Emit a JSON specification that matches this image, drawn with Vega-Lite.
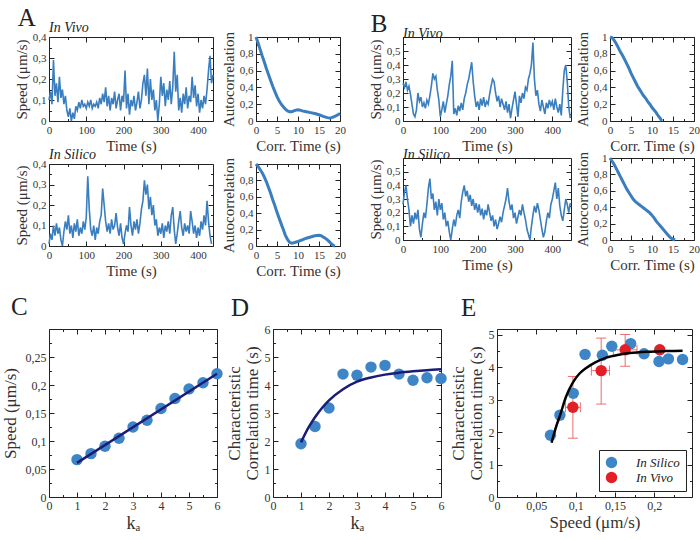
{
"$schema": "https://vega.github.io/schema/vega-lite/v6.json",
"padding": {"left": 0, "top": 6, "right": 4, "bottom": 4},
"background": "white",
"config": {
  "font": "Liberation Serif",
  "view": {"stroke": "#222", "strokeWidth": 1},
  "axis": {"grid": false, "domain": false, "tickColor": "#222", "tickSize": -5, "tickWidth": 1, "labelPadding": 8, "labelFont": "Liberation Serif", "labelFontSize": 11, "labelFontWeight": "normal", "labelColor": "#333", "labelFlush": false, "labelOverlap": false, "titleFont": "Liberation Serif", "titleFontSize": 15, "titleFontWeight": "normal", "titleColor": "#333", "titlePadding": 3},
  "style": {"guide-label": {"font": "Liberation Serif", "fontWeight": "normal"}, "guide-title": {"font": "Liberation Serif", "fontWeight": "normal"}},
  "title": {"font": "Liberation Serif", "fontWeight": "normal", "color": "#222"}
},
"datasets": {
"aViv": [{"t":0,"v":0.10},{"t":4,"v":0.14},{"t":8,"v":0.08},{"t":12,"v":0.29},{"t":16,"v":0.12},{"t":20,"v":0.18},{"t":24,"v":0.09},{"t":28,"v":0.21},{"t":32,"v":0.11},{"t":36,"v":0.15},{"t":40,"v":0.08},{"t":44,"v":0.12},{"t":48,"v":0.05},{"t":52,"v":0.02},{"t":56,"v":0.06},{"t":60,"v":0.00},{"t":64,"v":0.04},{"t":68,"v":0.01},{"t":72,"v":0.07},{"t":76,"v":0.05},{"t":80,"v":0.09},{"t":84,"v":0.06},{"t":88,"v":0.10},{"t":92,"v":0.07},{"t":96,"v":0.08},{"t":100,"v":0.06},{"t":104,"v":0.09},{"t":108,"v":0.07},{"t":112,"v":0.10},{"t":116,"v":0.06},{"t":120,"v":0.08},{"t":124,"v":0.07},{"t":128,"v":0.09},{"t":132,"v":0.06},{"t":136,"v":0.11},{"t":140,"v":0.08},{"t":144,"v":0.13},{"t":148,"v":0.09},{"t":152,"v":0.16},{"t":156,"v":0.07},{"t":160,"v":0.12},{"t":164,"v":0.05},{"t":168,"v":0.11},{"t":172,"v":0.08},{"t":176,"v":0.14},{"t":180,"v":0.06},{"t":184,"v":0.10},{"t":188,"v":0.13},{"t":192,"v":0.05},{"t":196,"v":0.12},{"t":200,"v":0.09},{"t":204,"v":0.24},{"t":208,"v":0.06},{"t":212,"v":0.13},{"t":216,"v":0.03},{"t":220,"v":0.10},{"t":224,"v":0.07},{"t":228,"v":0.12},{"t":232,"v":0.05},{"t":236,"v":0.09},{"t":240,"v":0.14},{"t":244,"v":0.06},{"t":248,"v":0.10},{"t":252,"v":0.18},{"t":256,"v":0.22},{"t":260,"v":0.12},{"t":264,"v":0.25},{"t":268,"v":0.08},{"t":272,"v":0.20},{"t":276,"v":0.10},{"t":280,"v":0.15},{"t":284,"v":0.05},{"t":288,"v":0.10},{"t":292,"v":0.00},{"t":296,"v":0.08},{"t":300,"v":0.21},{"t":304,"v":0.12},{"t":308,"v":0.18},{"t":312,"v":0.07},{"t":316,"v":0.15},{"t":320,"v":0.10},{"t":324,"v":0.19},{"t":328,"v":0.08},{"t":332,"v":0.16},{"t":336,"v":0.33},{"t":340,"v":0.14},{"t":344,"v":0.22},{"t":348,"v":0.05},{"t":352,"v":0.11},{"t":356,"v":0.04},{"t":360,"v":0.13},{"t":364,"v":0.08},{"t":368,"v":0.16},{"t":372,"v":0.06},{"t":376,"v":0.12},{"t":380,"v":0.09},{"t":384,"v":0.21},{"t":388,"v":0.11},{"t":392,"v":0.17},{"t":396,"v":0.07},{"t":400,"v":0.13},{"t":404,"v":0.04},{"t":408,"v":0.10},{"t":412,"v":0.06},{"t":416,"v":0.12},{"t":420,"v":0.08},{"t":424,"v":0.15},{"t":428,"v":0.24},{"t":432,"v":0.31},{"t":436,"v":0.18},{"t":440,"v":0.22}],
"aSil": [{"t":0,"v":0.01},{"t":4,"v":0.06},{"t":8,"v":0.03},{"t":12,"v":0.10},{"t":16,"v":0.05},{"t":20,"v":0.11},{"t":24,"v":0.06},{"t":28,"v":0.09},{"t":32,"v":0.03},{"t":36,"v":0.00},{"t":40,"v":0.07},{"t":44,"v":0.12},{"t":48,"v":0.08},{"t":52,"v":0.15},{"t":56,"v":0.06},{"t":60,"v":0.10},{"t":64,"v":0.04},{"t":68,"v":0.11},{"t":72,"v":0.07},{"t":76,"v":0.13},{"t":80,"v":0.05},{"t":84,"v":0.09},{"t":88,"v":0.06},{"t":92,"v":0.12},{"t":96,"v":0.08},{"t":100,"v":0.14},{"t":104,"v":0.34},{"t":108,"v":0.18},{"t":112,"v":0.08},{"t":116,"v":0.05},{"t":120,"v":0.10},{"t":124,"v":0.03},{"t":128,"v":0.09},{"t":132,"v":0.06},{"t":136,"v":0.12},{"t":140,"v":0.15},{"t":144,"v":0.28},{"t":148,"v":0.20},{"t":152,"v":0.12},{"t":156,"v":0.07},{"t":160,"v":0.11},{"t":164,"v":0.06},{"t":168,"v":0.13},{"t":172,"v":0.08},{"t":176,"v":0.10},{"t":180,"v":0.16},{"t":184,"v":0.09},{"t":188,"v":0.05},{"t":192,"v":0.11},{"t":196,"v":0.04},{"t":200,"v":0.01},{"t":204,"v":0.06},{"t":208,"v":0.10},{"t":212,"v":0.07},{"t":216,"v":0.19},{"t":220,"v":0.10},{"t":224,"v":0.05},{"t":228,"v":0.12},{"t":232,"v":0.08},{"t":236,"v":0.13},{"t":240,"v":0.06},{"t":244,"v":0.11},{"t":248,"v":0.18},{"t":252,"v":0.22},{"t":256,"v":0.32},{"t":260,"v":0.25},{"t":264,"v":0.30},{"t":268,"v":0.18},{"t":272,"v":0.24},{"t":276,"v":0.15},{"t":280,"v":0.20},{"t":284,"v":0.10},{"t":288,"v":0.13},{"t":292,"v":0.05},{"t":296,"v":0.09},{"t":300,"v":0.06},{"t":304,"v":0.11},{"t":308,"v":0.04},{"t":312,"v":0.10},{"t":316,"v":0.07},{"t":320,"v":0.12},{"t":324,"v":0.06},{"t":328,"v":0.15},{"t":332,"v":0.19},{"t":336,"v":0.08},{"t":340,"v":0.01},{"t":344,"v":0.06},{"t":348,"v":0.12},{"t":352,"v":0.17},{"t":356,"v":0.09},{"t":360,"v":0.05},{"t":364,"v":0.11},{"t":368,"v":0.07},{"t":372,"v":0.10},{"t":376,"v":0.06},{"t":380,"v":0.17},{"t":384,"v":0.12},{"t":388,"v":0.06},{"t":392,"v":0.10},{"t":396,"v":0.04},{"t":400,"v":0.09},{"t":404,"v":0.05},{"t":408,"v":0.12},{"t":412,"v":0.08},{"t":416,"v":0.15},{"t":420,"v":0.10},{"t":424,"v":0.22},{"t":428,"v":0.12},{"t":432,"v":0.05},{"t":436,"v":0.01}],
"bViv": [{"t":0,"v":0.27},{"t":4,"v":0.24},{"t":8,"v":0.28},{"t":12,"v":0.22},{"t":16,"v":0.25},{"t":20,"v":0.19},{"t":24,"v":0.12},{"t":28,"v":0.05},{"t":32,"v":0.03},{"t":36,"v":0.08},{"t":40,"v":0.20},{"t":44,"v":0.14},{"t":48,"v":0.17},{"t":52,"v":0.10},{"t":56,"v":0.13},{"t":60,"v":0.09},{"t":64,"v":0.15},{"t":68,"v":0.12},{"t":72,"v":0.18},{"t":76,"v":0.25},{"t":80,"v":0.34},{"t":84,"v":0.30},{"t":88,"v":0.32},{"t":92,"v":0.22},{"t":96,"v":0.15},{"t":100,"v":0.03},{"t":104,"v":0.08},{"t":108,"v":0.14},{"t":112,"v":0.06},{"t":116,"v":0.12},{"t":120,"v":0.18},{"t":124,"v":0.26},{"t":128,"v":0.32},{"t":132,"v":0.43},{"t":136,"v":0.05},{"t":140,"v":0.09},{"t":144,"v":0.04},{"t":148,"v":0.11},{"t":152,"v":0.07},{"t":156,"v":0.13},{"t":160,"v":0.08},{"t":164,"v":0.16},{"t":168,"v":0.20},{"t":172,"v":0.26},{"t":176,"v":0.30},{"t":180,"v":0.36},{"t":184,"v":0.42},{"t":188,"v":0.28},{"t":192,"v":0.18},{"t":196,"v":0.10},{"t":200,"v":0.14},{"t":204,"v":0.08},{"t":208,"v":0.16},{"t":212,"v":0.11},{"t":216,"v":0.17},{"t":220,"v":0.10},{"t":224,"v":0.14},{"t":228,"v":0.12},{"t":232,"v":0.19},{"t":236,"v":0.25},{"t":240,"v":0.30},{"t":244,"v":0.28},{"t":248,"v":0.20},{"t":252,"v":0.14},{"t":256,"v":0.18},{"t":260,"v":0.10},{"t":264,"v":0.16},{"t":268,"v":0.12},{"t":272,"v":0.08},{"t":276,"v":0.14},{"t":280,"v":0.06},{"t":284,"v":0.12},{"t":288,"v":0.02},{"t":292,"v":0.09},{"t":296,"v":0.15},{"t":300,"v":0.21},{"t":304,"v":0.12},{"t":308,"v":0.03},{"t":312,"v":0.18},{"t":316,"v":0.13},{"t":320,"v":0.20},{"t":324,"v":0.16},{"t":328,"v":0.24},{"t":332,"v":0.22},{"t":336,"v":0.30},{"t":340,"v":0.34},{"t":344,"v":0.40},{"t":348,"v":0.56},{"t":352,"v":0.30},{"t":356,"v":0.18},{"t":360,"v":0.22},{"t":364,"v":0.12},{"t":368,"v":0.07},{"t":372,"v":0.15},{"t":376,"v":0.10},{"t":380,"v":0.05},{"t":384,"v":0.13},{"t":388,"v":0.09},{"t":392,"v":0.15},{"t":396,"v":0.11},{"t":400,"v":0.14},{"t":404,"v":0.08},{"t":408,"v":0.16},{"t":412,"v":0.10},{"t":416,"v":0.06},{"t":420,"v":0.12},{"t":424,"v":0.04},{"t":428,"v":0.22},{"t":432,"v":0.36},{"t":436,"v":0.40},{"t":440,"v":0.28},{"t":444,"v":0.10},{"t":448,"v":0.02}],
"bSil": [{"t":0,"v":0.26},{"t":4,"v":0.35},{"t":8,"v":0.40},{"t":12,"v":0.30},{"t":16,"v":0.22},{"t":20,"v":0.10},{"t":24,"v":0.18},{"t":28,"v":0.12},{"t":32,"v":0.20},{"t":36,"v":0.15},{"t":40,"v":0.22},{"t":44,"v":0.08},{"t":48,"v":0.02},{"t":52,"v":0.12},{"t":56,"v":0.20},{"t":60,"v":0.16},{"t":64,"v":0.26},{"t":68,"v":0.38},{"t":72,"v":0.45},{"t":76,"v":0.30},{"t":80,"v":0.34},{"t":84,"v":0.22},{"t":88,"v":0.28},{"t":92,"v":0.18},{"t":96,"v":0.30},{"t":100,"v":0.22},{"t":104,"v":0.27},{"t":108,"v":0.15},{"t":112,"v":0.20},{"t":116,"v":0.10},{"t":120,"v":0.14},{"t":124,"v":0.06},{"t":128,"v":0.00},{"t":132,"v":0.08},{"t":136,"v":0.15},{"t":140,"v":0.10},{"t":144,"v":0.18},{"t":148,"v":0.22},{"t":152,"v":0.16},{"t":156,"v":0.28},{"t":160,"v":0.35},{"t":164,"v":0.40},{"t":168,"v":0.32},{"t":172,"v":0.36},{"t":176,"v":0.28},{"t":180,"v":0.33},{"t":184,"v":0.25},{"t":188,"v":0.30},{"t":192,"v":0.22},{"t":196,"v":0.27},{"t":200,"v":0.20},{"t":204,"v":0.26},{"t":208,"v":0.18},{"t":212,"v":0.23},{"t":216,"v":0.15},{"t":220,"v":0.22},{"t":224,"v":0.18},{"t":228,"v":0.26},{"t":232,"v":0.20},{"t":236,"v":0.14},{"t":240,"v":0.18},{"t":244,"v":0.10},{"t":248,"v":0.15},{"t":252,"v":0.08},{"t":256,"v":0.12},{"t":260,"v":0.17},{"t":264,"v":0.13},{"t":268,"v":0.20},{"t":272,"v":0.25},{"t":276,"v":0.30},{"t":280,"v":0.38},{"t":284,"v":0.28},{"t":288,"v":0.22},{"t":292,"v":0.26},{"t":296,"v":0.16},{"t":300,"v":0.20},{"t":304,"v":0.12},{"t":308,"v":0.17},{"t":312,"v":0.22},{"t":316,"v":0.18},{"t":320,"v":0.26},{"t":324,"v":0.20},{"t":328,"v":0.15},{"t":332,"v":0.08},{"t":336,"v":0.04},{"t":340,"v":0.00},{"t":344,"v":0.10},{"t":348,"v":0.18},{"t":352,"v":0.25},{"t":356,"v":0.20},{"t":360,"v":0.27},{"t":364,"v":0.22},{"t":368,"v":0.15},{"t":372,"v":0.08},{"t":376,"v":0.02},{"t":380,"v":0.06},{"t":384,"v":0.14},{"t":388,"v":0.20},{"t":392,"v":0.16},{"t":396,"v":0.26},{"t":400,"v":0.30},{"t":404,"v":0.36},{"t":408,"v":0.42},{"t":412,"v":0.30},{"t":416,"v":0.38},{"t":420,"v":0.25},{"t":424,"v":0.18},{"t":428,"v":0.14},{"t":432,"v":0.22},{"t":436,"v":0.30},{"t":440,"v":0.26},{"t":444,"v":0.20},{"t":448,"v":0.27}],
"acAViv": [{"c":0,"r":1.0},{"c":0.5,"r":0.93},{"c":1,"r":0.85},{"c":1.5,"r":0.77},{"c":2,"r":0.70},{"c":2.5,"r":0.62},{"c":3,"r":0.55},{"c":3.5,"r":0.48},{"c":4,"r":0.41},{"c":4.5,"r":0.35},{"c":5,"r":0.29},{"c":5.5,"r":0.24},{"c":6,"r":0.20},{"c":6.5,"r":0.17},{"c":7,"r":0.14},{"c":7.5,"r":0.12},{"c":8,"r":0.11},{"c":8.5,"r":0.11},{"c":9,"r":0.12},{"c":9.5,"r":0.13},{"c":10,"r":0.135},{"c":10.5,"r":0.13},{"c":11,"r":0.12},{"c":12,"r":0.11},{"c":13,"r":0.10},{"c":14,"r":0.09},{"c":15,"r":0.075},{"c":16,"r":0.055},{"c":17,"r":0.04},{"c":17.5,"r":0.035},{"c":18,"r":0.04},{"c":18.5,"r":0.05},{"c":19,"r":0.06},{"c":19.5,"r":0.075},{"c":20,"r":0.09}],
"acASil": [{"c":0,"r":1.0},{"c":0.5,"r":0.97},{"c":1,"r":0.93},{"c":1.5,"r":0.89},{"c":2,"r":0.84},{"c":2.5,"r":0.78},{"c":3,"r":0.71},{"c":3.5,"r":0.64},{"c":4,"r":0.56},{"c":4.5,"r":0.49},{"c":5,"r":0.41},{"c":5.5,"r":0.34},{"c":6,"r":0.27},{"c":6.5,"r":0.20},{"c":7,"r":0.13},{"c":7.5,"r":0.08},{"c":8,"r":0.045},{"c":8.5,"r":0.035},{"c":9,"r":0.04},{"c":10,"r":0.055},{"c":11,"r":0.075},{"c":12,"r":0.095},{"c":13,"r":0.11},{"c":14,"r":0.125},{"c":15,"r":0.13},{"c":15.5,"r":0.125},{"c":16,"r":0.11},{"c":16.5,"r":0.095},{"c":17,"r":0.075},{"c":17.5,"r":0.05},{"c":18,"r":0.025},{"c":18.5,"r":0.005},{"c":18.8,"r":0.0}],
"acBViv": [{"c":0,"r":1.0},{"c":0.5,"r":0.99},{"c":1,"r":0.96},{"c":1.5,"r":0.92},{"c":2,"r":0.87},{"c":2.5,"r":0.82},{"c":3,"r":0.78},{"c":3.5,"r":0.73},{"c":4,"r":0.68},{"c":4.5,"r":0.63},{"c":5,"r":0.57},{"c":5.5,"r":0.52},{"c":6,"r":0.47},{"c":6.5,"r":0.42},{"c":7,"r":0.38},{"c":7.5,"r":0.34},{"c":8,"r":0.30},{"c":8.5,"r":0.27},{"c":9,"r":0.23},{"c":9.5,"r":0.20},{"c":10,"r":0.16},{"c":10.5,"r":0.13},{"c":11,"r":0.10},{"c":11.5,"r":0.06},{"c":12,"r":0.03},{"c":12.3,"r":0.0}],
"acBSil": [{"c":0,"r":1.0},{"c":0.5,"r":0.96},{"c":1,"r":0.92},{"c":1.5,"r":0.87},{"c":2,"r":0.82},{"c":2.5,"r":0.77},{"c":3,"r":0.72},{"c":3.5,"r":0.67},{"c":4,"r":0.62},{"c":4.5,"r":0.58},{"c":5,"r":0.54},{"c":5.5,"r":0.50},{"c":6,"r":0.47},{"c":6.5,"r":0.45},{"c":7,"r":0.43},{"c":7.5,"r":0.41},{"c":8,"r":0.39},{"c":8.5,"r":0.37},{"c":9,"r":0.35},{"c":9.5,"r":0.33},{"c":10,"r":0.30},{"c":10.5,"r":0.27},{"c":11,"r":0.23},{"c":11.5,"r":0.20},{"c":12,"r":0.17},{"c":12.5,"r":0.14},{"c":13,"r":0.11},{"c":13.5,"r":0.08},{"c":14,"r":0.05},{"c":14.5,"r":0.025},{"c":15,"r":0.01},{"c":15.5,"r":0.0}],
"cPts": [{"k":1,"s":0.0667},{"k":1.5,"s":0.0774},{"k":2,"s":0.0905},{"k":2.5,"s":0.105},{"k":3,"s":0.125},{"k":3.5,"s":0.137},{"k":4,"s":0.158},{"k":4.5,"s":0.176},{"k":5,"s":0.193},{"k":5.5,"s":0.204},{"k":6,"s":0.220}],
"cFit": [{"k":1,"s":0.061},{"k":6,"s":0.220}],
"dPts": [{"k":1,"ct":1.90},{"k":1.5,"ct":2.52},{"k":2,"ct":3.18},{"k":2.5,"ct":4.39},{"k":3,"ct":4.35},{"k":3.5,"ct":4.64},{"k":4,"ct":4.70},{"k":4.5,"ct":4.39},{"k":5,"ct":4.17},{"k":5.5,"ct":4.26},{"k":6,"ct":4.23}],
"dFit": [{"k":1,"ct":1.95},{"k":1.25,"ct":2.45},{"k":1.5,"ct":2.85},{"k":1.75,"ct":3.18},{"k":2,"ct":3.45},{"k":2.5,"ct":3.85},{"k":3,"ct":4.12},{"k":3.5,"ct":4.27},{"k":4,"ct":4.37},{"k":4.5,"ct":4.44},{"k":5,"ct":4.49},{"k":5.5,"ct":4.53},{"k":6,"ct":4.56}],
"ePts": [{"sp":0.068,"ct":1.90,"type":"In Silico"},{"sp":0.080,"ct":2.52,"type":"In Silico"},{"sp":0.097,"ct":3.19,"type":"In Silico"},{"sp":0.112,"ct":4.39,"type":"In Silico"},{"sp":0.134,"ct":4.36,"type":"In Silico"},{"sp":0.146,"ct":4.64,"type":"In Silico"},{"sp":0.170,"ct":4.72,"type":"In Silico"},{"sp":0.187,"ct":4.41,"type":"In Silico"},{"sp":0.206,"ct":4.17,"type":"In Silico"},{"sp":0.218,"ct":4.25,"type":"In Silico"},{"sp":0.236,"ct":4.23,"type":"In Silico"},{"sp":0.0965,"ct":2.76,"type":"In Vivo"},{"sp":0.1325,"ct":3.89,"type":"In Vivo"},{"sp":0.163,"ct":4.53,"type":"In Vivo"},{"sp":0.207,"ct":4.53,"type":"In Vivo"}],
"eErr": [{"sp":0.0965,"ct":2.76,"ctLo":1.81,"ctHi":3.71,"spLo":0.087,"spHi":0.106},{"sp":0.1325,"ct":3.89,"ctLo":2.86,"ctHi":4.89,"spLo":0.120,"spHi":0.143},{"sp":0.163,"ct":4.53,"ctLo":4.02,"ctHi":5.0,"spLo":0.148,"spHi":0.178}],
"eFit": [{"sp":0.0694,"ct":1.67},{"sp":0.075,"ct":2.15},{"sp":0.080,"ct":2.5},{"sp":0.088,"ct":3.1},{"sp":0.0966,"ct":3.53},{"sp":0.105,"ct":3.8},{"sp":0.113,"ct":3.96},{"sp":0.125,"ct":4.14},{"sp":0.139,"ct":4.29},{"sp":0.155,"ct":4.38},{"sp":0.169,"ct":4.43},{"sp":0.19,"ct":4.47},{"sp":0.215,"ct":4.49},{"sp":0.236,"ct":4.5}]
},
"resolve": {"scale": {"color": "independent"}, "legend": {"color": "independent"}},
"vconcat": [
 {"hconcat": [
  {"title": {"text": "A", "anchor": "start", "frame": "bounds", "fontSize": 25, "offset": -10.5, "dx": 4},
   "spacing": -7,
   "vconcat": [
    {"hconcat": [
      {"width": 164, "height": 84,
       "title": {"text": "In Vivo", "anchor": "start", "frame": "group", "fontStyle": "italic", "fontSize": 14, "offset": -4},
       "layer": [
        {"data": {"name": "aViv"}, "mark": {"type": "line", "color": "#3a7ebf", "strokeWidth": 1.6},
         "encoding": {"x": {"field": "t", "type": "quantitative", "scale": {"domain": [0, 440], "nice": false, "zero": false}, "axis": {"values": [0,100,200,300,400], "title": "Time (s)", "titleFontWeight": "normal", "labelFont": "Liberation Serif", "titleFont": "Liberation Serif"}},
                      "y": {"field": "v", "type": "quantitative", "scale": {"domain": [0, 0.4], "nice": false, "zero": false}, "axis": {"values": [0,0.1,0.2,0.3,0.4], "title": "Speed (μm/s)", "format": ".2~f", "labelExpr": "replace(datum.label,'.',',')", "titleFontWeight": "normal", "labelFont": "Liberation Serif", "titleFont": "Liberation Serif"}}}},
        {"data": {"values": [{"t":0,"v":0}]}, "mark": {"type": "point", "opacity": 0},
         "encoding": {"x": {"field": "t", "type": "quantitative", "scale": {"domain": [0, 440], "nice": false, "zero": false}, "axis": {"orient": "top", "values": [0,100,200,300,400], "labels": false, "title": null}},
                      "y": {"field": "v", "type": "quantitative", "scale": {"domain": [0, 0.4], "nice": false, "zero": false}, "axis": {"orient": "right", "values": [0,0.1,0.2,0.3,0.4], "labels": false, "title": null}}}},
        {"data": {"values": [{"t":0,"v":0}]}, "mark": {"type": "point", "opacity": 0},
         "encoding": {"x": {"field": "t", "type": "quantitative", "scale": {"domain": [0, 440], "nice": false, "zero": false}, "axis": {"orient": "bottom", "values": [50,150,250,350], "labels": false, "title": null, "tickSize": -2.5}},
                      "y": {"field": "v", "type": "quantitative", "scale": {"domain": [0, 0.4], "nice": false, "zero": false}, "axis": {"orient": "left", "values": [0.05,0.15,0.25,0.35], "labels": false, "title": null, "tickSize": -2.5}}}},
        {"data": {"values": [{"t":0,"v":0}]}, "mark": {"type": "point", "opacity": 0},
         "encoding": {"x": {"field": "t", "type": "quantitative", "scale": {"domain": [0, 440], "nice": false, "zero": false}, "axis": {"orient": "top", "values": [50,150,250,350], "labels": false, "title": null, "tickSize": -2.5}},
                      "y": {"field": "v", "type": "quantitative", "scale": {"domain": [0, 0.4], "nice": false, "zero": false}, "axis": {"orient": "right", "values": [0.05,0.15,0.25,0.35], "labels": false, "title": null, "tickSize": -2.5}}}}
       ],
       "resolve": {"axis": {"x": "independent", "y": "independent"}}},
      {"width": 84, "height": 84,
       "layer": [
        {"data": {"name": "acAViv"}, "mark": {"type": "line", "color": "#3a7ebf", "strokeWidth": 3},
         "encoding": {"x": {"field": "c", "type": "quantitative", "scale": {"domain": [0, 20], "nice": false, "zero": false}, "axis": {"values": [0,5,10,15,20], "title": "Corr. Time (s)", "titleFontWeight": "normal", "labelFont": "Liberation Serif", "titleFont": "Liberation Serif"}},
                      "y": {"field": "r", "type": "quantitative", "scale": {"domain": [0, 1], "nice": false, "zero": false}, "axis": {"values": [0,0.2,0.4,0.6,0.8,1], "title": "Autocorrelation", "format": ".2~f", "labelExpr": "replace(datum.label,'.',',')", "titleFontWeight": "normal", "labelFont": "Liberation Serif", "titleFont": "Liberation Serif"}}}},
        {"data": {"values": [{"c":0,"r":0}]}, "mark": {"type": "point", "opacity": 0},
         "encoding": {"x": {"field": "c", "type": "quantitative", "scale": {"domain": [0, 20], "nice": false, "zero": false}, "axis": {"orient": "top", "values": [0,5,10,15,20], "labels": false, "title": null}},
                      "y": {"field": "r", "type": "quantitative", "scale": {"domain": [0, 1], "nice": false, "zero": false}, "axis": {"orient": "right", "values": [0,0.2,0.4,0.6,0.8,1], "labels": false, "title": null}}}},
        {"data": {"values": [{"c":0,"r":0}]}, "mark": {"type": "point", "opacity": 0},
         "encoding": {"x": {"field": "c", "type": "quantitative", "scale": {"domain": [0, 20], "nice": false, "zero": false}, "axis": {"orient": "bottom", "values": [2.5,7.5,12.5,17.5], "labels": false, "title": null, "tickSize": -2.5}},
                      "y": {"field": "r", "type": "quantitative", "scale": {"domain": [0, 1], "nice": false, "zero": false}, "axis": {"orient": "left", "values": [0.1,0.3,0.5,0.7,0.9], "labels": false, "title": null, "tickSize": -2.5}}}},
        {"data": {"values": [{"c":0,"r":0}]}, "mark": {"type": "point", "opacity": 0},
         "encoding": {"x": {"field": "c", "type": "quantitative", "scale": {"domain": [0, 20], "nice": false, "zero": false}, "axis": {"orient": "top", "values": [2.5,7.5,12.5,17.5], "labels": false, "title": null, "tickSize": -2.5}},
                      "y": {"field": "r", "type": "quantitative", "scale": {"domain": [0, 1], "nice": false, "zero": false}, "axis": {"orient": "right", "values": [0.1,0.3,0.5,0.7,0.9], "labels": false, "title": null, "tickSize": -2.5}}}}
       ],
       "resolve": {"axis": {"x": "independent", "y": "independent"}}}
     ], "spacing": 43, "bounds": "flush"},
    {"hconcat": [
      {"width": 164, "height": 82,
       "title": {"text": "In Silico", "anchor": "start", "frame": "group", "fontStyle": "italic", "fontSize": 14, "offset": -4},
       "layer": [
        {"data": {"name": "aSil"}, "mark": {"type": "line", "color": "#3a7ebf", "strokeWidth": 1.6},
         "encoding": {"x": {"field": "t", "type": "quantitative", "scale": {"domain": [0, 440], "nice": false, "zero": false}, "axis": {"values": [0,100,200,300,400], "title": "Time (s)", "titleFontWeight": "normal", "labelFont": "Liberation Serif", "titleFont": "Liberation Serif"}},
                      "y": {"field": "v", "type": "quantitative", "scale": {"domain": [0, 0.4], "nice": false, "zero": false}, "axis": {"values": [0,0.1,0.2,0.3,0.4], "title": "Speed (μm/s)", "format": ".2~f", "labelExpr": "replace(datum.label,'.',',')", "titleFontWeight": "normal", "labelFont": "Liberation Serif", "titleFont": "Liberation Serif"}}}},
        {"data": {"values": [{"t":0,"v":0}]}, "mark": {"type": "point", "opacity": 0},
         "encoding": {"x": {"field": "t", "type": "quantitative", "scale": {"domain": [0, 440], "nice": false, "zero": false}, "axis": {"orient": "top", "values": [0,100,200,300,400], "labels": false, "title": null}},
                      "y": {"field": "v", "type": "quantitative", "scale": {"domain": [0, 0.4], "nice": false, "zero": false}, "axis": {"orient": "right", "values": [0,0.1,0.2,0.3,0.4], "labels": false, "title": null}}}},
        {"data": {"values": [{"t":0,"v":0}]}, "mark": {"type": "point", "opacity": 0},
         "encoding": {"x": {"field": "t", "type": "quantitative", "scale": {"domain": [0, 440], "nice": false, "zero": false}, "axis": {"orient": "bottom", "values": [50,150,250,350], "labels": false, "title": null, "tickSize": -2.5}},
                      "y": {"field": "v", "type": "quantitative", "scale": {"domain": [0, 0.4], "nice": false, "zero": false}, "axis": {"orient": "left", "values": [0.05,0.15,0.25,0.35], "labels": false, "title": null, "tickSize": -2.5}}}},
        {"data": {"values": [{"t":0,"v":0}]}, "mark": {"type": "point", "opacity": 0},
         "encoding": {"x": {"field": "t", "type": "quantitative", "scale": {"domain": [0, 440], "nice": false, "zero": false}, "axis": {"orient": "top", "values": [50,150,250,350], "labels": false, "title": null, "tickSize": -2.5}},
                      "y": {"field": "v", "type": "quantitative", "scale": {"domain": [0, 0.4], "nice": false, "zero": false}, "axis": {"orient": "right", "values": [0.05,0.15,0.25,0.35], "labels": false, "title": null, "tickSize": -2.5}}}}
       ],
       "resolve": {"axis": {"x": "independent", "y": "independent"}}},
      {"width": 84, "height": 82,
       "layer": [
        {"data": {"name": "acASil"}, "mark": {"type": "line", "color": "#3a7ebf", "strokeWidth": 3},
         "encoding": {"x": {"field": "c", "type": "quantitative", "scale": {"domain": [0, 20], "nice": false, "zero": false}, "axis": {"values": [0,5,10,15,20], "title": "Corr. Time (s)", "titleFontWeight": "normal", "labelFont": "Liberation Serif", "titleFont": "Liberation Serif"}},
                      "y": {"field": "r", "type": "quantitative", "scale": {"domain": [0, 1], "nice": false, "zero": false}, "axis": {"values": [0,0.2,0.4,0.6,0.8,1], "title": "Autocorrelation", "format": ".2~f", "labelExpr": "replace(datum.label,'.',',')", "titleFontWeight": "normal", "labelFont": "Liberation Serif", "titleFont": "Liberation Serif"}}}},
        {"data": {"values": [{"c":0,"r":0}]}, "mark": {"type": "point", "opacity": 0},
         "encoding": {"x": {"field": "c", "type": "quantitative", "scale": {"domain": [0, 20], "nice": false, "zero": false}, "axis": {"orient": "top", "values": [0,5,10,15,20], "labels": false, "title": null}},
                      "y": {"field": "r", "type": "quantitative", "scale": {"domain": [0, 1], "nice": false, "zero": false}, "axis": {"orient": "right", "values": [0,0.2,0.4,0.6,0.8,1], "labels": false, "title": null}}}},
        {"data": {"values": [{"c":0,"r":0}]}, "mark": {"type": "point", "opacity": 0},
         "encoding": {"x": {"field": "c", "type": "quantitative", "scale": {"domain": [0, 20], "nice": false, "zero": false}, "axis": {"orient": "bottom", "values": [2.5,7.5,12.5,17.5], "labels": false, "title": null, "tickSize": -2.5}},
                      "y": {"field": "r", "type": "quantitative", "scale": {"domain": [0, 1], "nice": false, "zero": false}, "axis": {"orient": "left", "values": [0.1,0.3,0.5,0.7,0.9], "labels": false, "title": null, "tickSize": -2.5}}}},
        {"data": {"values": [{"c":0,"r":0}]}, "mark": {"type": "point", "opacity": 0},
         "encoding": {"x": {"field": "c", "type": "quantitative", "scale": {"domain": [0, 20], "nice": false, "zero": false}, "axis": {"orient": "top", "values": [2.5,7.5,12.5,17.5], "labels": false, "title": null, "tickSize": -2.5}},
                      "y": {"field": "r", "type": "quantitative", "scale": {"domain": [0, 1], "nice": false, "zero": false}, "axis": {"orient": "right", "values": [0.1,0.3,0.5,0.7,0.9], "labels": false, "title": null, "tickSize": -2.5}}}}
       ],
       "resolve": {"axis": {"x": "independent", "y": "independent"}}}
     ], "spacing": 43, "bounds": "flush"}
   ]},
  {"title": {"text": "B", "anchor": "start", "frame": "bounds", "fontSize": 25, "offset": -10.5, "dx": 3},
   "spacing": -7,
   "vconcat": [
    {"hconcat": [
      {"width": 168, "height": 84,
       "title": {"text": "In Vivo", "anchor": "start", "frame": "group", "fontStyle": "italic", "fontSize": 14, "offset": -4},
       "layer": [
        {"data": {"name": "bViv"}, "mark": {"type": "line", "color": "#3a7ebf", "strokeWidth": 1.6},
         "encoding": {"x": {"field": "t", "type": "quantitative", "scale": {"domain": [0, 450], "nice": false, "zero": false}, "axis": {"values": [0,100,200,300,400], "title": "Time (s)", "titleFontWeight": "normal", "labelFont": "Liberation Serif", "titleFont": "Liberation Serif"}},
                      "y": {"field": "v", "type": "quantitative", "scale": {"domain": [0, 0.6], "nice": false, "zero": false}, "axis": {"values": [0,0.1,0.2,0.3,0.4,0.5], "title": "Speed (μm/s)", "format": ".2~f", "labelExpr": "replace(datum.label,'.',',')", "titleFontWeight": "normal", "labelFont": "Liberation Serif", "titleFont": "Liberation Serif"}}}},
        {"data": {"values": [{"t":0,"v":0}]}, "mark": {"type": "point", "opacity": 0},
         "encoding": {"x": {"field": "t", "type": "quantitative", "scale": {"domain": [0, 450], "nice": false, "zero": false}, "axis": {"orient": "top", "values": [0,100,200,300,400], "labels": false, "title": null}},
                      "y": {"field": "v", "type": "quantitative", "scale": {"domain": [0, 0.6], "nice": false, "zero": false}, "axis": {"orient": "right", "values": [0,0.1,0.2,0.3,0.4,0.5], "labels": false, "title": null}}}},
        {"data": {"values": [{"t":0,"v":0}]}, "mark": {"type": "point", "opacity": 0},
         "encoding": {"x": {"field": "t", "type": "quantitative", "scale": {"domain": [0, 450], "nice": false, "zero": false}, "axis": {"orient": "bottom", "values": [50,150,250,350], "labels": false, "title": null, "tickSize": -2.5}},
                      "y": {"field": "v", "type": "quantitative", "scale": {"domain": [0, 0.6], "nice": false, "zero": false}, "axis": {"orient": "left", "values": [0.05,0.15,0.25,0.35,0.45,0.55], "labels": false, "title": null, "tickSize": -2.5}}}},
        {"data": {"values": [{"t":0,"v":0}]}, "mark": {"type": "point", "opacity": 0},
         "encoding": {"x": {"field": "t", "type": "quantitative", "scale": {"domain": [0, 450], "nice": false, "zero": false}, "axis": {"orient": "top", "values": [50,150,250,350], "labels": false, "title": null, "tickSize": -2.5}},
                      "y": {"field": "v", "type": "quantitative", "scale": {"domain": [0, 0.6], "nice": false, "zero": false}, "axis": {"orient": "right", "values": [0.05,0.15,0.25,0.35,0.45,0.55], "labels": false, "title": null, "tickSize": -2.5}}}}
       ],
       "resolve": {"axis": {"x": "independent", "y": "independent"}}},
      {"width": 84, "height": 84,
       "layer": [
        {"data": {"name": "acBViv"}, "mark": {"type": "line", "color": "#3a7ebf", "strokeWidth": 3},
         "encoding": {"x": {"field": "c", "type": "quantitative", "scale": {"domain": [0, 20], "nice": false, "zero": false}, "axis": {"values": [0,5,10,15,20], "title": "Corr. Time (s)", "titleFontWeight": "normal", "labelFont": "Liberation Serif", "titleFont": "Liberation Serif"}},
                      "y": {"field": "r", "type": "quantitative", "scale": {"domain": [0, 1], "nice": false, "zero": false}, "axis": {"values": [0,0.2,0.4,0.6,0.8,1], "title": "Autocorrelation", "format": ".2~f", "labelExpr": "replace(datum.label,'.',',')", "titleFontWeight": "normal", "labelFont": "Liberation Serif", "titleFont": "Liberation Serif"}}}},
        {"data": {"values": [{"c":0,"r":0}]}, "mark": {"type": "point", "opacity": 0},
         "encoding": {"x": {"field": "c", "type": "quantitative", "scale": {"domain": [0, 20], "nice": false, "zero": false}, "axis": {"orient": "top", "values": [0,5,10,15,20], "labels": false, "title": null}},
                      "y": {"field": "r", "type": "quantitative", "scale": {"domain": [0, 1], "nice": false, "zero": false}, "axis": {"orient": "right", "values": [0,0.2,0.4,0.6,0.8,1], "labels": false, "title": null}}}},
        {"data": {"values": [{"c":0,"r":0}]}, "mark": {"type": "point", "opacity": 0},
         "encoding": {"x": {"field": "c", "type": "quantitative", "scale": {"domain": [0, 20], "nice": false, "zero": false}, "axis": {"orient": "bottom", "values": [2.5,7.5,12.5,17.5], "labels": false, "title": null, "tickSize": -2.5}},
                      "y": {"field": "r", "type": "quantitative", "scale": {"domain": [0, 1], "nice": false, "zero": false}, "axis": {"orient": "left", "values": [0.1,0.3,0.5,0.7,0.9], "labels": false, "title": null, "tickSize": -2.5}}}},
        {"data": {"values": [{"c":0,"r":0}]}, "mark": {"type": "point", "opacity": 0},
         "encoding": {"x": {"field": "c", "type": "quantitative", "scale": {"domain": [0, 20], "nice": false, "zero": false}, "axis": {"orient": "top", "values": [2.5,7.5,12.5,17.5], "labels": false, "title": null, "tickSize": -2.5}},
                      "y": {"field": "r", "type": "quantitative", "scale": {"domain": [0, 1], "nice": false, "zero": false}, "axis": {"orient": "right", "values": [0.1,0.3,0.5,0.7,0.9], "labels": false, "title": null, "tickSize": -2.5}}}}
       ],
       "resolve": {"axis": {"x": "independent", "y": "independent"}}}
     ], "spacing": 39, "bounds": "flush"},
    {"hconcat": [
      {"width": 168, "height": 82,
       "title": {"text": "In Silico", "anchor": "start", "frame": "group", "fontStyle": "italic", "fontSize": 14, "offset": -4},
       "layer": [
        {"data": {"name": "bSil"}, "mark": {"type": "line", "color": "#3a7ebf", "strokeWidth": 1.6},
         "encoding": {"x": {"field": "t", "type": "quantitative", "scale": {"domain": [0, 450], "nice": false, "zero": false}, "axis": {"values": [0,100,200,300,400], "title": "Time (s)", "titleFontWeight": "normal", "labelFont": "Liberation Serif", "titleFont": "Liberation Serif"}},
                      "y": {"field": "v", "type": "quantitative", "scale": {"domain": [0, 0.6], "nice": false, "zero": false}, "axis": {"values": [0,0.1,0.2,0.3,0.4,0.5], "title": "Speed (μm/s)", "format": ".2~f", "labelExpr": "replace(datum.label,'.',',')", "titleFontWeight": "normal", "labelFont": "Liberation Serif", "titleFont": "Liberation Serif"}}}},
        {"data": {"values": [{"t":0,"v":0}]}, "mark": {"type": "point", "opacity": 0},
         "encoding": {"x": {"field": "t", "type": "quantitative", "scale": {"domain": [0, 450], "nice": false, "zero": false}, "axis": {"orient": "top", "values": [0,100,200,300,400], "labels": false, "title": null}},
                      "y": {"field": "v", "type": "quantitative", "scale": {"domain": [0, 0.6], "nice": false, "zero": false}, "axis": {"orient": "right", "values": [0,0.1,0.2,0.3,0.4,0.5], "labels": false, "title": null}}}},
        {"data": {"values": [{"t":0,"v":0}]}, "mark": {"type": "point", "opacity": 0},
         "encoding": {"x": {"field": "t", "type": "quantitative", "scale": {"domain": [0, 450], "nice": false, "zero": false}, "axis": {"orient": "bottom", "values": [50,150,250,350], "labels": false, "title": null, "tickSize": -2.5}},
                      "y": {"field": "v", "type": "quantitative", "scale": {"domain": [0, 0.6], "nice": false, "zero": false}, "axis": {"orient": "left", "values": [0.05,0.15,0.25,0.35,0.45,0.55], "labels": false, "title": null, "tickSize": -2.5}}}},
        {"data": {"values": [{"t":0,"v":0}]}, "mark": {"type": "point", "opacity": 0},
         "encoding": {"x": {"field": "t", "type": "quantitative", "scale": {"domain": [0, 450], "nice": false, "zero": false}, "axis": {"orient": "top", "values": [50,150,250,350], "labels": false, "title": null, "tickSize": -2.5}},
                      "y": {"field": "v", "type": "quantitative", "scale": {"domain": [0, 0.6], "nice": false, "zero": false}, "axis": {"orient": "right", "values": [0.05,0.15,0.25,0.35,0.45,0.55], "labels": false, "title": null, "tickSize": -2.5}}}}
       ],
       "resolve": {"axis": {"x": "independent", "y": "independent"}}},
      {"width": 84, "height": 82,
       "layer": [
        {"data": {"name": "acBSil"}, "mark": {"type": "line", "color": "#3a7ebf", "strokeWidth": 3},
         "encoding": {"x": {"field": "c", "type": "quantitative", "scale": {"domain": [0, 20], "nice": false, "zero": false}, "axis": {"values": [0,5,10,15,20], "title": "Corr. Time (s)", "titleFontWeight": "normal", "labelFont": "Liberation Serif", "titleFont": "Liberation Serif"}},
                      "y": {"field": "r", "type": "quantitative", "scale": {"domain": [0, 1], "nice": false, "zero": false}, "axis": {"values": [0,0.2,0.4,0.6,0.8,1], "title": "Autocorrelation", "format": ".2~f", "labelExpr": "replace(datum.label,'.',',')", "titleFontWeight": "normal", "labelFont": "Liberation Serif", "titleFont": "Liberation Serif"}}}},
        {"data": {"values": [{"c":0,"r":0}]}, "mark": {"type": "point", "opacity": 0},
         "encoding": {"x": {"field": "c", "type": "quantitative", "scale": {"domain": [0, 20], "nice": false, "zero": false}, "axis": {"orient": "top", "values": [0,5,10,15,20], "labels": false, "title": null}},
                      "y": {"field": "r", "type": "quantitative", "scale": {"domain": [0, 1], "nice": false, "zero": false}, "axis": {"orient": "right", "values": [0,0.2,0.4,0.6,0.8,1], "labels": false, "title": null}}}},
        {"data": {"values": [{"c":0,"r":0}]}, "mark": {"type": "point", "opacity": 0},
         "encoding": {"x": {"field": "c", "type": "quantitative", "scale": {"domain": [0, 20], "nice": false, "zero": false}, "axis": {"orient": "bottom", "values": [2.5,7.5,12.5,17.5], "labels": false, "title": null, "tickSize": -2.5}},
                      "y": {"field": "r", "type": "quantitative", "scale": {"domain": [0, 1], "nice": false, "zero": false}, "axis": {"orient": "left", "values": [0.1,0.3,0.5,0.7,0.9], "labels": false, "title": null, "tickSize": -2.5}}}},
        {"data": {"values": [{"c":0,"r":0}]}, "mark": {"type": "point", "opacity": 0},
         "encoding": {"x": {"field": "c", "type": "quantitative", "scale": {"domain": [0, 20], "nice": false, "zero": false}, "axis": {"orient": "top", "values": [2.5,7.5,12.5,17.5], "labels": false, "title": null, "tickSize": -2.5}},
                      "y": {"field": "r", "type": "quantitative", "scale": {"domain": [0, 1], "nice": false, "zero": false}, "axis": {"orient": "right", "values": [0.1,0.3,0.5,0.7,0.9], "labels": false, "title": null, "tickSize": -2.5}}}}
       ],
       "resolve": {"axis": {"x": "independent", "y": "independent"}}}
     ], "spacing": 39, "bounds": "flush"}
   ]}
 ], "spacing": 20},
 {"hconcat": [
   {"width": 168, "height": 168,
    "title": {"text": "C", "anchor": "start", "frame": "bounds", "fontSize": 25, "offset": 9, "dx": 10},
    "layer": [
     {"data": {"name": "cPts"}, "mark": {"type": "circle", "color": "#3d85c6", "opacity": 1, "size": 130},
      "encoding": {"x": {"field": "k", "type": "quantitative", "scale": {"domain": [0, 6], "nice": false, "zero": false}, "axis": {"values": [0,1,2,3,4,5,6], "title": "kₐ", "labelFontSize": 12, "titleFontSize": 18, "titleFontWeight": "normal", "labelFont": "Liberation Serif", "titleFont": "Liberation Serif"}},
                   "y": {"field": "s", "type": "quantitative", "scale": {"domain": [0, 0.3], "nice": false, "zero": false}, "axis": {"values": [0,0.05,0.1,0.15,0.2,0.25], "title": "Speed (μm/s)", "format": ".2~f", "labelExpr": "replace(datum.label,'.',',')", "labelFontSize": 12, "titleFontSize": 17, "titlePadding": 6, "titleFontWeight": "normal", "labelFont": "Liberation Serif", "titleFont": "Liberation Serif"}}}},
     {"data": {"name": "cFit"}, "mark": {"type": "line", "color": "#1c1c78", "strokeWidth": 2.5},
      "encoding": {"x": {"field": "k", "type": "quantitative", "scale": {"domain": [0, 6], "nice": false, "zero": false}, "axis": null},
                   "y": {"field": "s", "type": "quantitative", "scale": {"domain": [0, 0.3], "nice": false, "zero": false}, "axis": null}}},
     {"data": {"values": [{"k":0,"s":0}]}, "mark": {"type": "point", "opacity": 0},
      "encoding": {"x": {"field": "k", "type": "quantitative", "scale": {"domain": [0, 6], "nice": false, "zero": false}, "axis": {"orient": "top", "values": [0,1,2,3,4,5,6], "labels": false, "title": null}},
                   "y": {"field": "s", "type": "quantitative", "scale": {"domain": [0, 0.3], "nice": false, "zero": false}, "axis": {"orient": "right", "values": [0,0.05,0.1,0.15,0.2,0.25], "labels": false, "title": null}}}},
     {"data": {"values": [{"k":0,"s":0}]}, "mark": {"type": "point", "opacity": 0},
      "encoding": {"x": {"field": "k", "type": "quantitative", "scale": {"domain": [0, 6], "nice": false, "zero": false}, "axis": {"orient": "bottom", "values": [0.5,1.5,2.5,3.5,4.5,5.5], "labels": false, "title": null, "tickSize": -2.5}},
                   "y": {"field": "s", "type": "quantitative", "scale": {"domain": [0, 0.3], "nice": false, "zero": false}, "axis": {"orient": "left", "values": [0.025,0.075,0.125,0.175,0.225,0.275], "labels": false, "title": null, "tickSize": -2.5}}}},
     {"data": {"values": [{"k":0,"s":0}]}, "mark": {"type": "point", "opacity": 0},
      "encoding": {"x": {"field": "k", "type": "quantitative", "scale": {"domain": [0, 6], "nice": false, "zero": false}, "axis": {"orient": "top", "values": [0.5,1.5,2.5,3.5,4.5,5.5], "labels": false, "title": null, "tickSize": -2.5}},
                   "y": {"field": "s", "type": "quantitative", "scale": {"domain": [0, 0.3], "nice": false, "zero": false}, "axis": {"orient": "right", "values": [0.025,0.075,0.125,0.175,0.225,0.275], "labels": false, "title": null, "tickSize": -2.5}}}}
    ],
    "resolve": {"axis": {"x": "independent", "y": "independent"}}},
   {"width": 168, "height": 168,
    "title": {"text": "D", "anchor": "start", "frame": "bounds", "fontSize": 25, "offset": 2, "dx": 6},
    "layer": [
     {"data": {"name": "dPts"}, "mark": {"type": "circle", "color": "#3d85c6", "opacity": 1, "size": 130},
      "encoding": {"x": {"field": "k", "type": "quantitative", "scale": {"domain": [0, 6], "nice": false, "zero": false}, "axis": {"values": [0,1,2,3,4,5,6], "title": "kₐ", "labelFontSize": 12, "titleFontSize": 18, "titleFontWeight": "normal", "labelFont": "Liberation Serif", "titleFont": "Liberation Serif"}},
                   "y": {"field": "ct", "type": "quantitative", "scale": {"domain": [0, 6], "nice": false, "zero": false}, "axis": {"values": [0,1,2,3,4,5,6], "title": ["Characteristic", "Correlation time (s)"], "labelFontSize": 12, "titleFontSize": 17, "titleLineHeight": 18, "titleFontWeight": "normal", "labelFont": "Liberation Serif", "titleFont": "Liberation Serif"}}}},
     {"data": {"name": "dFit"}, "mark": {"type": "line", "color": "#1c1c78", "strokeWidth": 2.5, "interpolate": "monotone"},
      "encoding": {"x": {"field": "k", "type": "quantitative", "scale": {"domain": [0, 6], "nice": false, "zero": false}, "axis": null},
                   "y": {"field": "ct", "type": "quantitative", "scale": {"domain": [0, 6], "nice": false, "zero": false}, "axis": null}}},
     {"data": {"values": [{"k":0,"ct":0}]}, "mark": {"type": "point", "opacity": 0},
      "encoding": {"x": {"field": "k", "type": "quantitative", "scale": {"domain": [0, 6], "nice": false, "zero": false}, "axis": {"orient": "top", "values": [0,1,2,3,4,5,6], "labels": false, "title": null}},
                   "y": {"field": "ct", "type": "quantitative", "scale": {"domain": [0, 6], "nice": false, "zero": false}, "axis": {"orient": "right", "values": [0,1,2,3,4,5,6], "labels": false, "title": null}}}},
     {"data": {"values": [{"k":0,"ct":0}]}, "mark": {"type": "point", "opacity": 0},
      "encoding": {"x": {"field": "k", "type": "quantitative", "scale": {"domain": [0, 6], "nice": false, "zero": false}, "axis": {"orient": "bottom", "values": [0.5,1.5,2.5,3.5,4.5,5.5], "labels": false, "title": null, "tickSize": -2.5}},
                   "y": {"field": "ct", "type": "quantitative", "scale": {"domain": [0, 6], "nice": false, "zero": false}, "axis": {"orient": "left", "values": [0.5,1.5,2.5,3.5,4.5,5.5], "labels": false, "title": null, "tickSize": -2.5}}}},
     {"data": {"values": [{"k":0,"ct":0}]}, "mark": {"type": "point", "opacity": 0},
      "encoding": {"x": {"field": "k", "type": "quantitative", "scale": {"domain": [0, 6], "nice": false, "zero": false}, "axis": {"orient": "top", "values": [0.5,1.5,2.5,3.5,4.5,5.5], "labels": false, "title": null, "tickSize": -2.5}},
                   "y": {"field": "ct", "type": "quantitative", "scale": {"domain": [0, 6], "nice": false, "zero": false}, "axis": {"orient": "right", "values": [0.5,1.5,2.5,3.5,4.5,5.5], "labels": false, "title": null, "tickSize": -2.5}}}}
    ],
    "resolve": {"axis": {"x": "independent", "y": "independent"}}},
   {"width": 195, "height": 168,
    "title": {"text": "E", "anchor": "start", "frame": "bounds", "fontSize": 25, "offset": 7.5, "dx": 12},
    "layer": [
     {"data": {"name": "eErr"}, "mark": {"type": "rule", "color": "#e8555a", "strokeWidth": 1, "opacity": 0.85},
      "encoding": {"x": {"field": "sp", "type": "quantitative", "scale": {"domain": [0, 0.248], "nice": false, "zero": false}, "axis": null},
                   "y": {"field": "ctLo", "type": "quantitative", "scale": {"domain": [0, 5.17], "nice": false, "zero": false}, "axis": null},
                   "y2": {"field": "ctHi"}}},
     {"data": {"name": "eErr"}, "mark": {"type": "rule", "color": "#e8555a", "strokeWidth": 1, "opacity": 0.85},
      "encoding": {"x": {"field": "spLo", "type": "quantitative", "scale": {"domain": [0, 0.248], "nice": false, "zero": false}, "axis": null},
                   "x2": {"field": "spHi"},
                   "y": {"field": "ct", "type": "quantitative", "scale": {"domain": [0, 5.17], "nice": false, "zero": false}, "axis": null}}},
     {"data": {"name": "eErr"}, "mark": {"type": "tick", "color": "#e8555a", "thickness": 1, "size": 10, "orient": "horizontal", "opacity": 0.85},
      "encoding": {"x": {"field": "sp", "type": "quantitative", "scale": {"domain": [0, 0.248], "nice": false, "zero": false}, "axis": null},
                   "y": {"field": "ctLo", "type": "quantitative", "scale": {"domain": [0, 5.17], "nice": false, "zero": false}, "axis": null}}},
     {"data": {"name": "eErr"}, "mark": {"type": "tick", "color": "#e8555a", "thickness": 1, "size": 10, "orient": "horizontal", "opacity": 0.85},
      "encoding": {"x": {"field": "sp", "type": "quantitative", "scale": {"domain": [0, 0.248], "nice": false, "zero": false}, "axis": null},
                   "y": {"field": "ctHi", "type": "quantitative", "scale": {"domain": [0, 5.17], "nice": false, "zero": false}, "axis": null}}},
     {"data": {"name": "eErr"}, "mark": {"type": "tick", "color": "#e8555a", "thickness": 1, "size": 10, "orient": "vertical", "opacity": 0.85},
      "encoding": {"x": {"field": "spLo", "type": "quantitative", "scale": {"domain": [0, 0.248], "nice": false, "zero": false}, "axis": null},
                   "y": {"field": "ct", "type": "quantitative", "scale": {"domain": [0, 5.17], "nice": false, "zero": false}, "axis": null}}},
     {"data": {"name": "eErr"}, "mark": {"type": "tick", "color": "#e8555a", "thickness": 1, "size": 10, "orient": "vertical", "opacity": 0.85},
      "encoding": {"x": {"field": "spHi", "type": "quantitative", "scale": {"domain": [0, 0.248], "nice": false, "zero": false}, "axis": null},
                   "y": {"field": "ct", "type": "quantitative", "scale": {"domain": [0, 5.17], "nice": false, "zero": false}, "axis": null}}},
     {"data": {"name": "ePts"}, "mark": {"type": "circle", "opacity": 1, "size": 130},
      "encoding": {"x": {"field": "sp", "type": "quantitative", "scale": {"domain": [0, 0.248], "nice": false, "zero": false}, "axis": {"values": [0,0.05,0.1,0.15,0.2], "title": "Speed (μm/s)", "format": ".2~f", "labelExpr": "replace(datum.label,'.',',')", "labelFontSize": 12, "titleFontSize": 17, "titleFontWeight": "normal", "labelFont": "Liberation Serif", "titleFont": "Liberation Serif"}},
                   "y": {"field": "ct", "type": "quantitative", "scale": {"domain": [0, 5.17], "nice": false, "zero": false}, "axis": {"values": [0,1,2,3,4,5], "title": ["Characteristic", "Correlation time (s)"], "labelFontSize": 12, "titleFontSize": 17, "titleLineHeight": 18, "titleFontWeight": "normal", "labelFont": "Liberation Serif", "titleFont": "Liberation Serif"}},
                   "color": {"field": "type", "type": "nominal", "scale": {"domain": ["In Silico", "In Vivo"], "range": ["#3d85c6", "#e41e26"]},
                             "legend": {"title": null, "orient": "bottom-right", "offset": 6, "strokeColor": "#222", "fillColor": "white", "padding": 6, "labelFont": "Liberation Serif", "labelFontStyle": "italic", "labelFontSize": 13, "labelColor": "#222", "symbolSize": 130, "symbolType": "circle", "labelOffset": 18, "rowPadding": 1}}}},
     {"data": {"name": "eFit"}, "mark": {"type": "line", "color": "black", "strokeWidth": 2.5, "interpolate": "monotone"},
      "encoding": {"x": {"field": "sp", "type": "quantitative", "scale": {"domain": [0, 0.248], "nice": false, "zero": false}, "axis": null},
                   "y": {"field": "ct", "type": "quantitative", "scale": {"domain": [0, 5.17], "nice": false, "zero": false}, "axis": null}}},
     {"data": {"values": [{"sp":0,"ct":0}]}, "mark": {"type": "point", "opacity": 0},
      "encoding": {"x": {"field": "sp", "type": "quantitative", "scale": {"domain": [0, 0.248], "nice": false, "zero": false}, "axis": {"orient": "top", "values": [0,0.05,0.1,0.15,0.2], "labels": false, "title": null}},
                   "y": {"field": "ct", "type": "quantitative", "scale": {"domain": [0, 5.17], "nice": false, "zero": false}, "axis": {"orient": "right", "values": [0,1,2,3,4,5], "labels": false, "title": null}}}},
     {"data": {"values": [{"sp":0,"ct":0}]}, "mark": {"type": "point", "opacity": 0},
      "encoding": {"x": {"field": "sp", "type": "quantitative", "scale": {"domain": [0, 0.248], "nice": false, "zero": false}, "axis": {"orient": "bottom", "values": [0.025,0.075,0.125,0.175,0.225], "labels": false, "title": null, "tickSize": -2.5}},
                   "y": {"field": "ct", "type": "quantitative", "scale": {"domain": [0, 5.17], "nice": false, "zero": false}, "axis": {"orient": "left", "values": [0.5,1.5,2.5,3.5,4.5], "labels": false, "title": null, "tickSize": -2.5}}}},
     {"data": {"values": [{"sp":0,"ct":0}]}, "mark": {"type": "point", "opacity": 0},
      "encoding": {"x": {"field": "sp", "type": "quantitative", "scale": {"domain": [0, 0.248], "nice": false, "zero": false}, "axis": {"orient": "top", "values": [0.025,0.075,0.125,0.175,0.225], "labels": false, "title": null, "tickSize": -2.5}},
                   "y": {"field": "ct", "type": "quantitative", "scale": {"domain": [0, 5.17], "nice": false, "zero": false}, "axis": {"orient": "right", "values": [0.5,1.5,2.5,3.5,4.5], "labels": false, "title": null, "tickSize": -2.5}}}}
    ],
    "resolve": {"axis": {"x": "independent", "y": "independent"}}}
 ], "spacing": 56, "bounds": "flush", "resolve": {"scale": {"color": "independent"}, "legend": {"color": "independent"}}}
],
"spacing": 15
}
